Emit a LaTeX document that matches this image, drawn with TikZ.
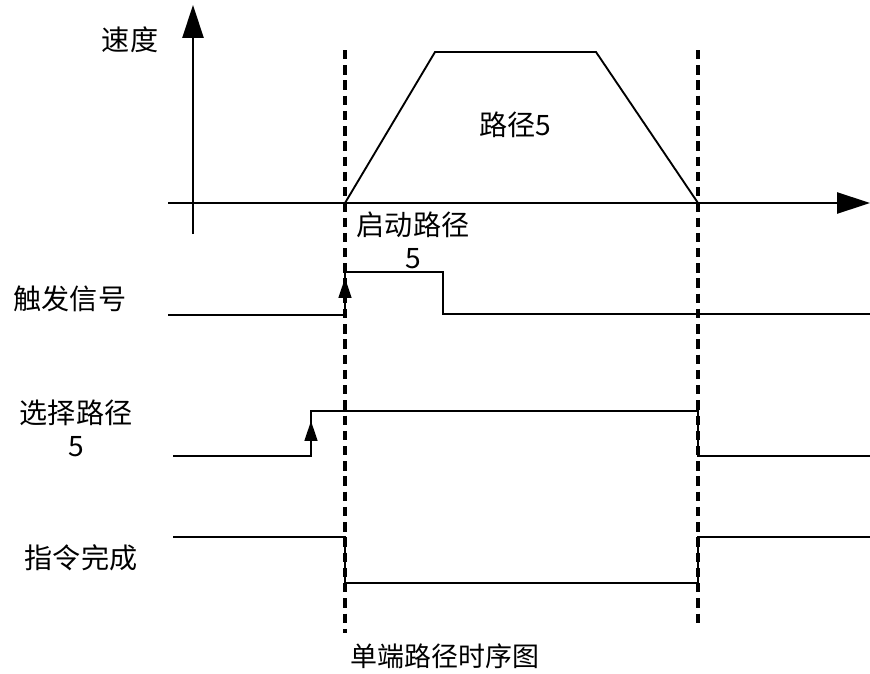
\documentclass[tikz,border=0pt]{standalone}
\usepackage{fontspec}
\setmainfont{Noto Sans CJK SC}
\usetikzlibrary{arrows.meta}
\tikzset{
  every picture/.style={line width=1.6pt},
  axis/.style={-{Triangle[length=28pt, width=18pt]}},
  edge/.style={-{Triangle[length=17pt, width=11pt]}},
  guide/.style={line width=2.8pt, dash pattern=on 8pt off 5pt},
  lbl/.style={font=\fontsize{24}{28}\selectfont, align=center, inner sep=0pt},
  caption/.style={font=\fontsize{23}{28}\selectfont, inner sep=0pt},
}
\begin{document}
\begin{tikzpicture}[x=0.03cm, y=-0.03cm]
  \useasboundingbox (0,0) rectangle (870,673);
  % axes
  \coordinate (vbot) at (193,234);
  \coordinate (vtop) at (193,5);
  \coordinate (hleft) at (168,203);
  \coordinate (hright) at (870,203);
  \draw[axis] (vbot) -- (vtop);
  \draw[axis] (hleft) -- (hright);
  \node[lbl] (speed) at (130,40) {速度};
  % velocity profile
  \coordinate (p0) at (345,203);
  \coordinate (p1) at (435,52);
  \coordinate (p2) at (596,52);
  \coordinate (p3) at (698,203);
  \draw (p0) -- (p1) -- (p2) -- (p3);
  \node[lbl] (path) at (515,125) {路径5};
  % time markers
  \coordinate (t1top) at (345,50);
  \coordinate (t1bot) at (345,633);
  \coordinate (t2top) at (698,50);
  \coordinate (t2bot) at (698,628);
  \draw[guide] (t1top) -- (t1bot);
  \draw[guide] (t2top) -- (t2bot);
  \node[lbl] (start) at (413,240) {启动路径\\5};
  % trigger signal
  \node[lbl] (trig) at (70,299) {触发信号};
  \draw (168,315) -- (345,315) -- (345,272) -- (443,272) -- (443,314) -- (870,314);
  \coordinate (trigA) at (345,312);
  \coordinate (trigB) at (345,278);
  \draw[edge] (trigA) -- (trigB);
  % select signal
  \node[lbl] (sel) at (76,428) {选择路径\\5};
  \draw (173,456) -- (311,456) -- (311,411) -- (698,411) -- (698,456) -- (870,456);
  \coordinate (selA) at (311,448);
  \coordinate (selB) at (311,421);
  \draw[edge] (selA) -- (selB);
  % done signal
  \node[lbl] (done) at (81,558) {指令完成};
  \draw (173,537) -- (345,537) -- (345,583) -- (698,583) -- (698,537) -- (870,537);
  % caption
  \node[caption] (title) at (445,656) {单端路径时序图};
\end{tikzpicture}
\end{document}
